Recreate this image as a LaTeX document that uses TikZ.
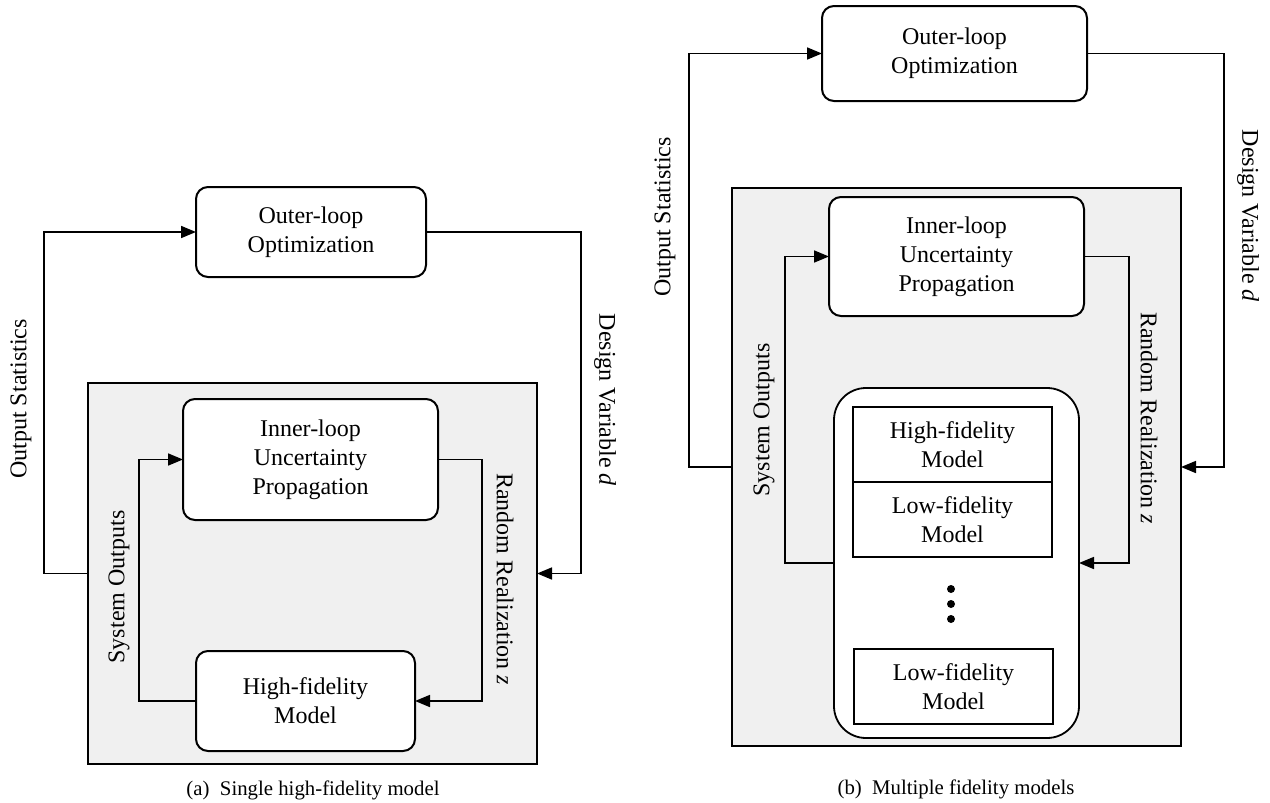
\documentclass[tikz,border=0pt]{standalone}
\usepackage{fontspec}
\setmainfont{Liberation Serif}
\usetikzlibrary{positioning, arrows.meta}
\definecolor{panelgray}{RGB}{240,240,240}
\tikzset{
    loopbox/.style={rectangle, rounded corners=6pt, draw=black, fill=white, line width=1pt, align=center, inner sep=0pt, outer sep=0pt, font=\fontsize{12}{14.5}\selectfont},
    modelbox/.style={rectangle, draw=black, fill=white, line width=0.65pt, minimum width=99.5pt, minimum height=37.5pt, align=center, inner sep=0pt, outer sep=0pt, font=\fontsize{12}{14.5}\selectfont},
    stackbox/.style={rectangle, rounded corners=16pt, draw=black, fill=white, line width=0.9pt, inner sep=0pt, outer sep=0pt},
    panelbox/.style={rectangle, draw=black, fill=panelgray, line width=1.15pt, inner sep=0pt, outer sep=0pt},
    arr/.style={-{Triangle[length=7.5pt, width=6pt]}, line width=0.85pt},
    sidelbl/.style={font=\fontsize{12}{14}\selectfont, inner sep=0pt},
    caplbl/.style={font=\fontsize{10.4}{12}\selectfont, inner sep=0pt}
}
\begin{document}
\begin{tikzpicture}[x=0.5pt, y=-0.5pt]
        \useasboundingbox (0,0) rectangle (1270,803);

        % === (a) Single high-fidelity model ===
        \node[panelbox, minimum width=224.5pt, minimum height=190.5pt] (grayA) at (312.5,573.5) {};
        \node[loopbox, minimum width=115pt, minimum height=45pt] (outerA) at (311,232) {Outer-loop\\Optimization};
        \node[loopbox, minimum width=127.5pt, minimum height=60.5pt] (innerA) at (310.5,459.5) {Inner-loop\\Uncertainty\\Propagation};
        \node[loopbox, minimum width=109.5pt, minimum height=50pt] (hfA) at (305.5,701) {High-fidelity\\Model};

        \draw[arr] (grayA.west) -- ++(-44,0) |- (outerA.west);
        \draw[arr] (outerA.east) -- ++(155,0) |- (grayA.east);
        \draw[arr] (hfA.west) -- ++(-57,0) |- (innerA.west);
        \draw[arr] (innerA.east) -- ++(44,0) |- (hfA.east);

        \node[sidelbl, rotate=90] (statA) at (21,399) {Output Statistics};
        \node[sidelbl, rotate=-90] (designA) at (605,400) {Design Variable \textit{d}};
        \node[sidelbl, rotate=90] (sysA) at (119,587) {System Outputs};
        \node[sidelbl, rotate=-90] (randA) at (505,579) {Random Realization \textit{z}};
        \node[caplbl] (capA) at (313,790) {(a)\enspace Single high-fidelity model};

        % === (b) Multiple fidelity models ===
        \node[panelbox, minimum width=224.5pt, minimum height=279pt] (grayB) at (956.5,467) {};
        \node[loopbox, minimum width=132.5pt, minimum height=47.5pt] (outerB) at (954.5,53.5) {Outer-loop\\Optimization};
        \node[loopbox, minimum width=127.5pt, minimum height=59.5pt] (innerB) at (956.5,256.5) {Inner-loop\\Uncertainty\\Propagation};
        \node[stackbox, minimum width=122.5pt, minimum height=175pt] (stackB) at (956.5,563) {};
        \node[modelbox] (hfB) at (952.5,444.5) {High-fidelity\\Model};
        \node[modelbox] (lfB) at (952.5,519.5) {Low-fidelity\\Model};
        \node[modelbox] (lfnB) at (953.5,686.5) {Low-fidelity\\Model};
        % vertical ellipsis
        \foreach \y in {589,604,619}
            \fill (951,\y) circle (2pt);

        \draw[arr] (grayB.west) -- ++(-43,0) |- (outerB.west);
        \draw[arr] (outerB.east) -- ++(137,0) |- (grayB.east);
        \draw[arr] (stackB.west) -- ++(-49,0) |- (innerB.west);
        \draw[arr] (innerB.east) -- ++(45,0) |- (stackB.east);

        \node[sidelbl, rotate=90] (statB) at (665,217) {Output Statistics};
        \node[sidelbl, rotate=-90] (designB) at (1248,216) {Design Variable \textit{d}};
        \node[sidelbl, rotate=90] (sysB) at (764,420) {System Outputs};
        \node[sidelbl, rotate=-90] (randB) at (1149,418) {Random Realization \textit{z}};
        \node[caplbl] (capB) at (956,789) {(b)\enspace Multiple fidelity models};
    \end{tikzpicture}
\end{document}
